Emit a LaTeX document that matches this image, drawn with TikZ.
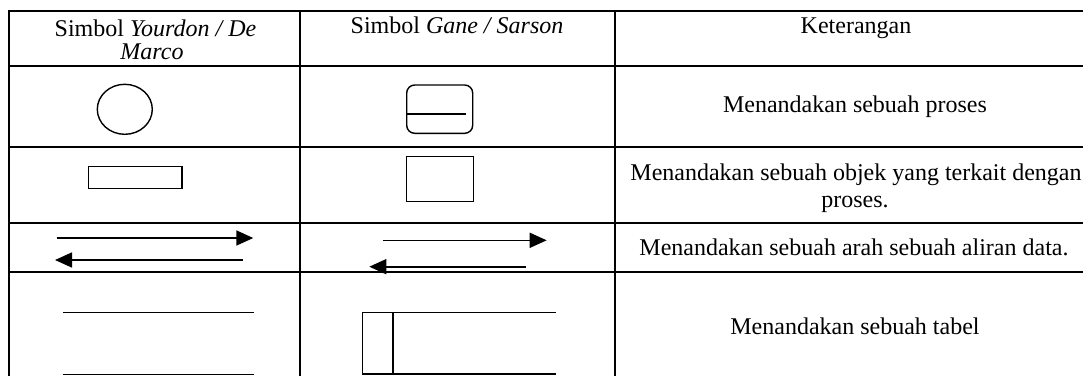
\documentclass[tikz,border=0pt]{standalone}
\usepackage{fontspec}
\setmainfont{Liberation Serif}
\usetikzlibrary{arrows.meta}
\begin{document}
\begin{tikzpicture}[x=0.5pt,y=-0.5pt,
  grid/.style={line width=1pt},
  sym/.style={line width=0.7pt},
  flow/.style={line width=0.8pt,-{Triangle[length=8.5pt,width=7.5pt]}},
  txt/.style={anchor=base,inner sep=0pt,font=\fontsize{12}{14}\selectfont}]
\useasboundingbox (0,0) rectangle (1083,376);
% table grid
\draw[grid] (9,376) -- (9,11) -- (1083,11);
\draw[grid] (300,11) -- (300,376);
\draw[grid] (615,11) -- (615,376);
\foreach \yy in {66,146.7,222.7,272} \draw[grid] (9,\yy) -- (1083,\yy);
% header
\node[txt] (h1a) at (155.5,36) {Simbol \textit{Yourdon / De}};
\node[txt] (h1b) at (152,59.3) {\textit{Marco}};
\node[txt] (h2) at (457,33) {Simbol \textit{Gane / Sarson}};
\node[txt] (h3) at (856,33) {Keterangan};
% row 1
\draw[sym] (124.8,109.3) ellipse [x radius=27.5, y radius=25];
\draw[sym,rounded corners=4pt] (406.7,85) rectangle (472.7,133.3);
\draw[sym] (406.7,114) -- (465.7,114);
\node[txt] (k1) at (855,112.7) {Menandakan sebuah proses};
% row 2
\draw[sym] (88.7,166.7) rectangle (182,188.7);
\draw[sym] (406.7,156.7) rectangle (473.7,201.7);
\node[txt] (k2a) at (856,180) {Menandakan sebuah objek yang terkait dengan};
\node[txt] (k2b) at (855,207.7) {proses.};
% row 3
\coordinate (ya1) at (56.7,238);  \coordinate (yb1) at (253.3,238);
\coordinate (ya2) at (243.3,260); \coordinate (yb2) at (55,260);
\coordinate (ga1) at (382.7,240.3); \coordinate (gb1) at (546.7,240.3);
\coordinate (ga2) at (525.7,266.7); \coordinate (gb2) at (369.3,266.7);
\draw[flow] (ya1) -- (yb1);
\draw[flow] (ya2) -- (yb2);
\draw[flow] (ga1) -- (gb1);
\draw[flow] (ga2) -- (gb2);
\node[txt] (k3) at (854,255.5) {Menandakan sebuah arah sebuah aliran data.};
% row 4
\draw[sym] (62.7,312.3) -- (254,312.3);
\draw[sym] (62.7,374.7) -- (254,374.7);
\draw[sym] (362.7,312.7) rectangle (393,374);
\draw[sym] (393,312.7) -- (555.7,312.7);
\draw[sym] (393,374) -- (555.7,374);
\node[txt] (k4) at (855,334.3) {Menandakan sebuah tabel};
\end{tikzpicture}
\end{document}
